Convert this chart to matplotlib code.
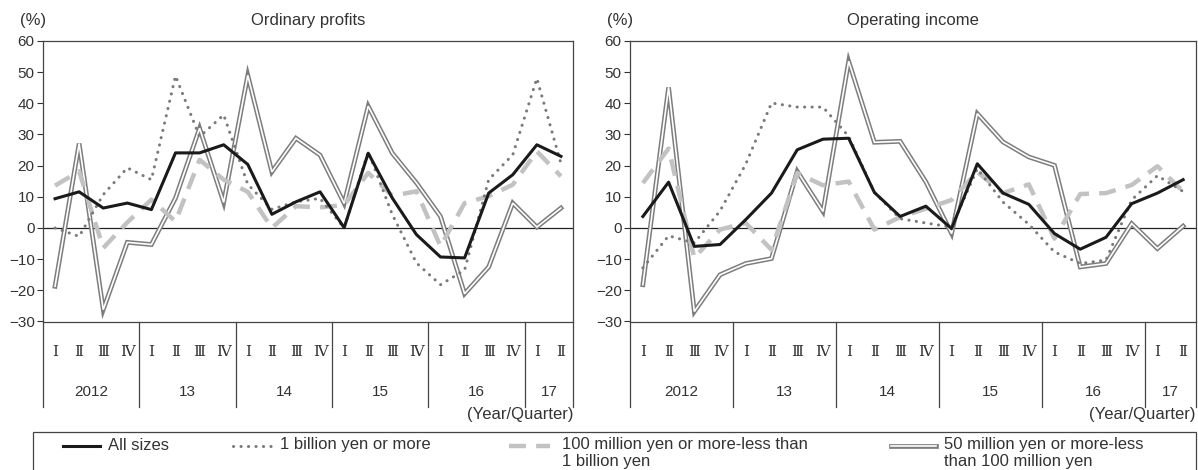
import matplotlib
matplotlib.use("Agg")
import matplotlib.pyplot as plt
import matplotlib.transforms as mtransforms
from matplotlib.lines import Line2D
from matplotlib.patches import Rectangle

plt.rcParams["font.family"] = ["Liberation Sans", "DejaVu Sans"]

# Data (% change year on year)
quarters = ["Ⅰ", "Ⅱ", "Ⅲ", "Ⅳ"] * 5 + ["Ⅰ", "Ⅱ"]
years = ["2012", "13", "14", "15", "16", "17"]
year_len = [4, 4, 4, 4, 4, 2]

# Ordinary profits
op_all = [9.4, 11.6, 6.4, 8.0, 5.9, 24.1, 24.1, 26.7, 20.4, 4.4, 8.4,
          11.6, 0.1, 24.0, 9.6, -2.1, -9.3, -9.6, 11.2, 17.1, 26.7, 23.0]
op_big = [0.0, -2.7, 10.7, 19.3, 15.5, 48.8, 29.3, 36.3, 14.0, 6.0, 8.4,
          9.5, 0.0, 24.5, 4.3, -11.2, -18.2, -13.5, 15.5, 23.5, 48.0, 20.7]
op_mid = [13.6, 18.2, -6.4, 1.8, 9.1, 2.1, 21.9, 15.5, 11.6, 0.0, 7.0,
          6.6, 7.4, 17.7, 10.3, 11.8, -5.9, 8.0, 10.2, 13.9, 24.6, 16.6]
op_small = [-18.7, 27.1, -26.2, -4.6, -5.3, 9.6, 32.0, 8.2, 49.0, 18.0, 28.8,
            23.4, 7.9, 39.1, 24.0, 14.5, 3.7, -21.1, -12.5, 8.0, 0.3, 6.4]

# Operating income
oi_all = [3.7, 14.7, -5.9, -5.3, 2.7, 11.2, 25.1, 28.5, 28.8, 11.4, 3.7,
          7.0, -0.2, 20.6, 11.2, 7.6, -1.8, -6.8, -3.0, 7.8, 11.2, 15.5]
oi_big = [-12.8, -2.5, -4.8, 5.5, 20.5, 40.1, 38.8, 38.8, 29.4, 11.4, 3.0,
          1.6, 0.3, 19.0, 8.3, 1.2, -7.7, -11.4, -10.3, 9.0, 16.8, 11.7]
oi_mid = [14.4, 25.5, -9.6, -0.5, 1.6, -7.0, 17.6, 13.7, 14.9, -0.5, 3.5,
          6.2, 9.0, 18.0, 11.2, 14.0, -3.4, 10.9, 11.2, 13.8, 19.8, 11.7]
oi_small = [-18.2, 45.1, -26.8, -15.0, -11.4, -9.8, 18.2, 5.3, 53.5, 27.5, 27.8,
            14.8, -1.8, 36.7, 27.6, 22.8, 20.1, -12.5, -11.4, 1.4, -6.6, 0.6]

labels = ["All sizes", "1 billion yen or more",
          "100 million yen or more-less than\n1 billion yen",
          "50 million yen or more-less\nthan 100 million yen"]

W, H = 1198, 470
TXT = "#333333"
FS = 12      # titles, legend
FS_T = 11    # tick / category labels

fig = plt.figure(figsize=(W / 100, H / 100), dpi=100)


def fx(px):
    return px / W


def fy(py):
    return 1 - py / H


def panel(x0, x1, title, s_all, s_big, s_mid, s_small):
    top, bot = 41, 321.5
    ax = fig.add_axes([fx(x0), fy(bot), fx(x1 - x0), (bot - top) / H])
    x = list(range(len(quarters)))

    # double line: grey outline with white core
    ax.plot(x, s_small, color="#7d7d7d", lw=3.4, solid_joinstyle="miter", zorder=2)
    ax.plot(x, s_small, color="white", lw=1.2, solid_joinstyle="miter", zorder=2.1)
    ax.plot(x, s_mid, color="#c2c2c2", lw=3.2, dashes=(3.8, 2.3), zorder=3)
    ax.plot(x, s_big, color="#7a7a7a", lw=2.2, dashes=(0.05, 2.4),
            dash_capstyle="round", zorder=4)
    ax.plot(x, s_all, color="#1a1a1a", lw=2.2, zorder=5)
    ax.axhline(0, color="#222222", lw=0.9, zorder=1)

    ax.set_xlim(-0.5, len(quarters) - 0.5)
    ax.set_ylim(-30, 60)
    ax.set_yticks(range(-30, 61, 10))
    ax.set_xticks([])
    ax.tick_params(axis="y", direction="out", length=4, width=0.8,
                   labelsize=FS_T, colors=TXT, pad=2)
    for sp in ax.spines.values():
        sp.set_color("#444444")
        sp.set_linewidth(0.9)

    # category axis below the plot
    trans = mtransforms.blended_transform_factory(ax.transData, ax.transAxes)
    h = bot - top
    y_q = (bot - 352) / h
    y_y = (bot - 392) / h
    y_div = (bot - 407) / h
    for i, q in enumerate(quarters):
        ax.text(i, y_q, q, transform=trans, ha="center", va="center",
                fontsize=FS_T, color=TXT,
                family=["DejaVu Serif", "Noto Sans CJK JP", "DejaVu Sans"])
    start = 0
    bounds = [-0.5]
    for yr, n in zip(years, year_len):
        ax.text(start + (n - 1) / 2, y_y, yr, transform=trans, ha="center",
                va="center", fontsize=FS_T, color=TXT)
        start += n
        bounds.append(start - 0.5)
    for b in bounds:
        ax.plot([b, b], [0, y_div], transform=trans, clip_on=False,
                color="#444444", lw=0.9)

    fig.text(fx(x0 - 23), fy(21), "(%)", ha="left", va="center",
             fontsize=FS, color=TXT)
    fig.text(fx((x0 + x1) / 2), fy(21), title, ha="center", va="center",
             fontsize=FS, color=TXT)
    fig.text(fx(x1), fy(414), "(Year/Quarter)", ha="right", va="center",
             fontsize=FS, color=TXT)
    return ax


panel(43, 573, "Ordinary profits", op_all, op_big, op_mid, op_small)
panel(630, 1196, "Operating income", oi_all, oi_big, oi_mid, oi_small)

# legend box (runs off the bottom edge as in the source)
fig.add_artist(Rectangle((fx(33), fy(474)), fx(1196 - 33), (474 - 432) / H,
                         transform=fig.transFigure, fill=False,
                         edgecolor="#444444", lw=0.9))
ly = fy(446)
handles = [
    (63, 100, [dict(color="#1a1a1a", lw=2.2)]),
    (233, 272, [dict(color="#7a7a7a", lw=2.2, dashes=(0.05, 2.4),
                     dash_capstyle="round")]),
    (509, 550, [dict(color="#c2c2c2", lw=3.2, dashes=(3.8, 2.3))]),
    (891, 936, [dict(color="#7d7d7d", lw=3.4), dict(color="white", lw=1.2)]),
]
text_x = [108, 280, 562, 944]
for (a, b, kws), tx, lab in zip(handles, text_x, labels):
    for kw in kws:
        fig.add_artist(Line2D([fx(a), fx(b)], [ly, ly],
                              transform=fig.transFigure, **kw))
    fig.text(fx(tx), fy(446 - 8.5), lab, ha="left", va="top", fontsize=FS,
             color=TXT, linespacing=1.1)

fig.savefig("out.png", dpi=100)
